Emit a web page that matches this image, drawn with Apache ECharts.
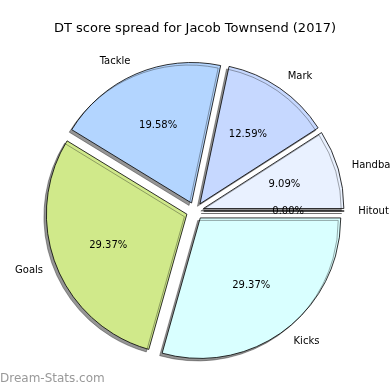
<!DOCTYPE html>
<html>
<head>
<meta charset="utf-8">
<script src="https://cdn.jsdelivr.net/npm/echarts@6/dist/echarts.min.js"></script>
<style>
html,body{margin:0;padding:0;background:#fff;}
#chart{width:390px;height:390px;}
</style>
</head>
<body>
<div id="chart"></div>
<script>
var categories = ['Hitout', 'Handball', 'Mark', 'Tackle', 'Goals', 'Kicks'];
var values = [0, 13, 18, 28, 42, 42];
var colors = ['#ffffff', '#e9f1ff', '#c6d8ff', '#b3d5ff', '#d0e98a', '#d9ffff'];
var titleText = 'DT score spread for Jacob Townsend (2017)';
var watermark = 'Dream-Stats.com';

var R = 140.5;
var CENTER = [195, 211];
var OFFSET = 8.7;
var FONT = 'DejaVu Sans';

var sliceData = categories.map(function (c, i) {
  return { name: c, value: values[i], selected: true, itemStyle: { color: colors[i] } };
});
var pctData = categories.map(function (c, i) {
  return { name: c, value: values[i], selected: true };
});

var chart = echarts.init(document.getElementById('chart'), null, { renderer: 'canvas' });
chart.setOption({
  animation: false,
  backgroundColor: '#ffffff',
  title: {
    text: titleText,
    left: 'center',
    top: 17,
    textStyle: { fontFamily: FONT, fontSize: 13, fontWeight: 'normal', color: '#000' }
  },
  graphic: [{
    type: 'text',
    left: 0,
    top: 373,
    style: { text: watermark, fontFamily: FONT, fontSize: 12, fontWeight: 'normal', fill: '#999999' }
  }],
  series: [
    {
      type: 'pie',
      center: CENTER,
      radius: [0, R],
      startAngle: 0,
      clockwise: false,
      avoidLabelOverlap: false,
      selectedMode: 'multiple',
      selectedOffset: OFFSET,
      minAngle: 0,
      silent: true,
      itemStyle: {
        borderColor: '#000',
        borderWidth: 0.8,
        shadowColor: 'rgba(20,20,20,0.45)',
        shadowBlur: 0.01,
        shadowOffsetX: -2.5,
        shadowOffsetY: 2.5
      },
      select: { itemStyle: { borderColor: '#000', borderWidth: 0.8 } },
      emphasis: { disabled: true, scale: false },
      label: {
        show: true,
        position: 'outside',
        formatter: '{b}',
        fontFamily: FONT,
        fontSize: 10,
        color: '#000',
        distanceToLabelLine: 0
      },
      labelLine: { show: false, length: R * 0.1, length2: 0 },
      data: sliceData
    },
    {
      type: 'pie',
      center: CENTER,
      radius: [0, R * 1.16],
      startAngle: 0,
      clockwise: false,
      avoidLabelOverlap: false,
      selectedMode: 'multiple',
      selectedOffset: OFFSET,
      silent: true,
      z: 3,
      itemStyle: { color: 'rgba(0,0,0,0)', borderWidth: 0 },
      select: { itemStyle: { color: 'rgba(0,0,0,0)', borderWidth: 0 } },
      emphasis: { disabled: true, scale: false },
      label: {
        show: true,
        position: 'inside',
        formatter: function (p) { return p.percent.toFixed(2) + '%'; },
        fontFamily: FONT,
        fontSize: 10,
        color: '#000'
      },
      labelLine: { show: false },
      data: pctData
    }
  ]
});
</script>
</body>
</html>
